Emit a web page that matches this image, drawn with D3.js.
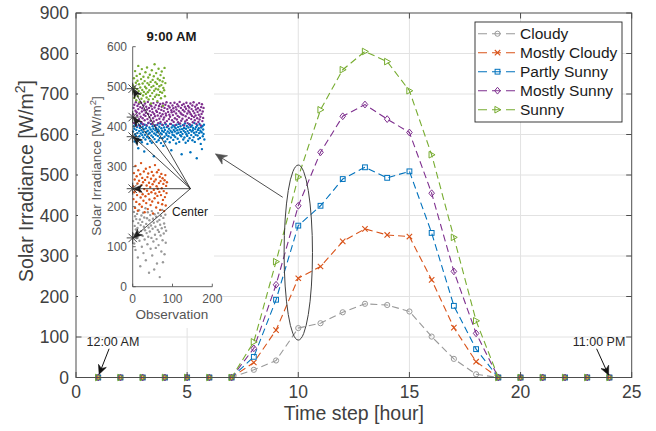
<!DOCTYPE html>
<html><head><meta charset="utf-8">
<script src="https://cdn.jsdelivr.net/npm/d3@7"></script>
<style>body{margin:0;background:#fff}svg{display:block;font-family:"Liberation Sans",Arial,Helvetica,sans-serif}</style>
</head><body><svg id="c" width="656" height="431"></svg>
<script>
// ---------- DATA ----------
const hours = [1,2,3,4,5,6,7,8,9,10,11,12,13,14,15,16,17,18,19,20,21,22,23,24];
const seriesNames = ["Cloudy","Mostly Cloudy","Partly Sunny","Mostly Sunny","Sunny"];
const cloudy       = [0,0,0,0,0,0,0,19,42,122,134,161,182,179,163,101,46,8,0,0,0,0,0,0];
const mostlyCloudy = [0,0,0,0,0,0,0,37,117,245,274,336,367,352,348,241,123,39,0,0,0,0,0,0];
const partlySunny  = [0,0,0,0,0,0,0,51,192,375,424,490,519,493,509,357,177,70,0,0,0,0,0,0];
const mostlySunny  = [0,0,0,0,0,0,0,72,229,424,556,645,674,638,605,455,262,109,0,0,0,0,0,0];
const sunny        = [0,0,0,0,0,0,0,88,286,495,661,760,805,780,708,550,346,140,0,0,0,0,0,0];
const xTicks = [0,5,10,15,20,25];
const yTicks = [0,100,200,300,400,500,600,700,800,900];

// inset (9:00 AM observations, x = observation index)
const insetXTicks = [0,100,200];
const insetYTicks = [0,100,200,300,400,500,600];
const obsCloudy = [164,131,187,108,152,176,92,143,169,121,182,147,73,159,136,191,115,168,51,154,139,178,100,162,127,185,84,150,173,118,141,196,66,157,134,171,106,186,125,148,35,166,138,179,95,153,122,189,78,145,170,113,160,43,181,130,150,97,175,119,58,163,142,184,104,137,167,24,155,128,177,88,146,192,116,61,172,133,158,81,149,180,110,140];
const obsMostlyCloudy = [251,219,284,236,268,197,302,243,212,276,229,258,190,291,247,265,206,238,281,223,309,254,200,272,231,261,215,288,244,186,267,226,295,209,253,240,274,194,283,232,260,218,299,249,204,270,236,287,213,256,183,278,242,263,221,304,233,268,198,251,286,227,245,210,292,259,237,275,192,264,229,282,246,206,271,217,257,239,189,266,224,279,203,252,234,261];
const obsPartlySunny = [388,372,401,395,363,381,406,377,392,359,399,384,370,346,404,389,376,397,366,383,408,391,361,379,400,386,373,394,338,405,380,368,396,387,402,375,357,390,409,382,371,398,385,364,393,407,378,360,388,401,374,395,326,383,369,403,391,380,397,362,386,405,377,393,366,389,400,372,408,384,359,396,381,390,371,404,352,387,398,375,392,363,406,383,379,399,369,388,402,376,395,384,361,407,390,373,341,398,386,380,403,367,392,378,400,388,374,396,358,405,383,391,370,399,385,407,362,393,379,401,387,376,331,394,382,404,368,390,397,373,408,386,360,395,381,402,377,389,365,398,384,406,371,392,336,400,379,388,403,366,391,397,374,385,409,362,394,380,399,387,321,403,378,392,369,396,384,407,372,390,357,398,386,344,401,376,393,382,405,368];
const obsMostlySunny = [431,447,409,455,422,418,440,461,403,436,428,452,414,444,457,419,433,402,449,425,460,411,438,446,421,406,453,430,441,416,458,427,435,450,404,443,419,462,432,410,447,424,439,455,415,429,451,407,444,436,421,459,413,432,448,426,403,454,440,417,437,461,428,409,445,452,420,434,457,412,426,442,450,405,431,458,418,439,423,447,410,455,433,428,461,414,444,402,437,452,419,430,448,425,459,407,441,436,416,453,429,446,412,438,460,421,404,449,433,443,418,456,427,411,451,439,424,462,408,435,447,415,431,454,420,442,429,457,403,438,450,413,426,445,460,417,433,409,452,440,422,448,436,405,458,431,419,444,427,453,411,439,461,424,434,416,450,428,443,407,455,421,437,446,412,430,459,418,441,425,403,449,432,456,414,438,422,447];
const obsSunny = [503,488,521,472,497,539,481,510,466,527,494,515,476,552,489,506,461,532,498,483,519,470,544,492,508,478,525,487,463,514,500,536,482,496,473,548,509,486,523,468,505,491,530,477,512,458,499,541,484,517,469,502,526,490,556,475,511,495,534,480,507,464,520,493,545,479,501,516,487,529,471,504,538,485,513,452,497,522,491,547,476,509];
const insetCenter = [145, 245];

// ---------- STYLE ----------
const colors = ["#999999","#D95319","#0072BD","#7E2F8E","#77AC30"];
const markers = ["circle","x","square","diamond","triangle"];
const mainSeries = [cloudy, mostlyCloudy, partlySunny, mostlySunny, sunny];
const obsSeries = [obsCloudy, obsMostlyCloudy, obsPartlySunny, obsMostlySunny, obsSunny];
const axisColor = "#4d4d4d", textColor = "#404040", gridColor = "#e2e2e2";

const svg = d3.select("#c");
const x = d3.scaleLinear().domain([0,25]).range([76,631.7]);
const y = d3.scaleLinear().domain([0,900]).range([377.5,13]);

// grid
const grid = svg.append("g");
xTicks.slice(1,-1).forEach(t=>grid.append("line").attr("x1",x(t)).attr("x2",x(t)).attr("y1",y(0)).attr("y2",y(900)).attr("stroke",gridColor).attr("stroke-width",1));
yTicks.slice(1,-1).forEach(t=>grid.append("line").attr("x1",x(0)).attr("x2",x(25)).attr("y1",y(t)).attr("y2",y(t)).attr("stroke",gridColor).attr("stroke-width",1));

function marker(g, type, cx, cy, color){
  const s = 2.7;
  if(type==="circle") g.append("circle").attr("cx",cx).attr("cy",cy).attr("r",2.6).attr("fill","none").attr("stroke",color).attr("stroke-width",1);
  else if(type==="x") g.append("path").attr("d",`M${cx-s},${cy-s}L${cx+s},${cy+s}M${cx-s},${cy+s}L${cx+s},${cy-s}`).attr("stroke",color).attr("stroke-width",1.1).attr("fill","none");
  else if(type==="square") g.append("rect").attr("x",cx-2.4).attr("y",cy-2.4).attr("width",4.8).attr("height",4.8).attr("fill","none").attr("stroke",color).attr("stroke-width",1);
  else if(type==="diamond") g.append("path").attr("d",`M${cx},${cy-3.4}L${cx+2.8},${cy}L${cx},${cy+3.4}L${cx-2.8},${cy}Z`).attr("fill","none").attr("stroke",color).attr("stroke-width",1);
  else if(type==="triangle") g.append("path").attr("d",`M${cx-2.6},${cy-3.3}L${cx+3.4},${cy}L${cx-2.6},${cy+3.3}Z`).attr("fill","none").attr("stroke",color).attr("stroke-width",1);
}

// series
const line = d3.line().x((d,i)=>x(hours[i])).y(d=>y(d));
mainSeries.forEach((vals,k)=>{
  const g = svg.append("g");
  g.append("path").attr("d",line(vals)).attr("fill","none").attr("stroke",colors[k]).attr("stroke-width",1.1).attr("stroke-dasharray","7,4");
  vals.forEach((v,i)=>marker(g,markers[k],x(hours[i]),y(v),colors[k]));
});

// axes box and ticks
const ax = svg.append("g").attr("stroke",axisColor).attr("stroke-width",1);
ax.append("rect").attr("x",x(0)).attr("y",y(900)).attr("width",x(25)-x(0)).attr("height",y(0)-y(900)).attr("fill","none");
xTicks.forEach(t=>{
  ax.append("line").attr("x1",x(t)).attr("x2",x(t)).attr("y1",y(0)).attr("y2",y(0)-5.5);
  ax.append("line").attr("x1",x(t)).attr("x2",x(t)).attr("y1",y(900)).attr("y2",y(900)+5.5);
});
yTicks.forEach(t=>{
  ax.append("line").attr("x1",x(0)).attr("x2",x(0)+5.5).attr("y1",y(t)).attr("y2",y(t));
  ax.append("line").attr("x1",x(25)).attr("x2",x(25)-5.5).attr("y1",y(t)).attr("y2",y(t));
});
xTicks.forEach(t=>svg.append("text").attr("x",x(t)).attr("y",398).attr("text-anchor","middle").attr("font-size",17.5).attr("fill",textColor).text(t));
yTicks.forEach(t=>svg.append("text").attr("x",69).attr("y",y(t)).attr("dy","0.36em").attr("text-anchor","end").attr("font-size",17.5).attr("fill",textColor).text(t));
svg.append("text").attr("x",(x(0)+x(25))/2).attr("y",420).attr("text-anchor","middle").attr("font-size",19.5).attr("fill",textColor).text("Time step [hour]");
const yl = svg.append("text").attr("transform","translate(33,181) rotate(-90)").attr("text-anchor","middle").attr("font-size",19.5).attr("fill",textColor);
yl.append("tspan").text("Solar Irradiance [W/m");
yl.append("tspan").attr("dy",-8).attr("font-size",14).text("2");
yl.append("tspan").attr("dy",8).text("]");

// arrowhead helper
function arrowHead(g, x0,y0,x1,y1,L,w,color){
  const a = Math.atan2(y1-y0,x1-x0), ux=Math.cos(a), uy=Math.sin(a), px=-uy, py=ux;
  const bx=x1-L*ux, by=y1-L*uy, nx=x1-L*0.7*ux, ny=y1-L*0.7*uy;
  g.append("path").attr("d",`M${x1},${y1}L${bx+w*px},${by+w*py}L${nx},${ny}L${bx-w*px},${by-w*py}Z`).attr("fill",color).attr("stroke",color).attr("stroke-width",0.6);
}
function arrow(g,x0,y0,x1,y1,L,w,color,sw){
  g.append("line").attr("x1",x0).attr("y1",y0).attr("x2",x1).attr("y2",y1).attr("stroke",color).attr("stroke-width",sw);
  arrowHead(g,x0,y0,x1,y1,L,w,color);
}

// ellipse around hour 10
const h10 = mainSeries.map(s=>s[hours.indexOf(10)]);
const eTop = y(d3.max(h10)), eBot = y(d3.min(h10));
const ann = svg.append("g");
ann.append("ellipse").attr("cx",x(10)).attr("cy",(eTop+eBot)/2).attr("rx",14.2).attr("ry",(eBot-eTop)/2+12).attr("fill","none").attr("stroke","#404040").attr("stroke-width",1);
arrow(ann, x(9.3), y(445), x(6.28), y(552), 11, 5, "#505050", 1);

// 12:00 AM / 11:00 PM
ann.append("text").attr("x",x(1.66)).attr("y",y(78)).attr("text-anchor","middle").attr("font-size",12.5).attr("fill","#262626").text("12:00 AM");
arrow(ann, x(1.49), y(71), x(1.04), y(8), 9, 4.2, "#111", 1);
ann.append("text").attr("x",x(23.53)).attr("y",y(79)).attr("text-anchor","middle").attr("font-size",12.5).attr("fill","#262626").text("11:00 PM");
arrow(ann, x(23.42), y(71), x(23.96), y(6), 9, 4.2, "#111", 1);

// ---------- INSET ----------
const ix = d3.scaleLinear().domain([0,200]).range([132.7,212.3]);
const iy = d3.scaleLinear().domain([0,600]).range([286.7,46.7]);
const ins = svg.append("g");
ins.append("rect").attr("x",78).attr("y",20).attr("width",136).attr("height",308).attr("fill","#fff");
// scatter
obsSeries.forEach((vals,k)=>{
  ins.append("g").selectAll("circle").data(vals).join("circle")
    .attr("cx",(d,i)=>ix(i+1)).attr("cy",d=>iy(d)).attr("r",1.2).attr("fill",colors[k]);
});
// axes
const iax = ins.append("g").attr("stroke","#555").attr("stroke-width",0.9);
iax.append("line").attr("x1",ix(0)).attr("x2",ix(0)).attr("y1",iy(0)).attr("y2",iy(600));
iax.append("line").attr("x1",ix(0)).attr("x2",ix(200)).attr("y1",iy(0)).attr("y2",iy(0));
insetYTicks.forEach(t=>iax.append("line").attr("x1",ix(0)).attr("x2",ix(0)+3).attr("y1",iy(t)).attr("y2",iy(t)));
insetXTicks.forEach(t=>iax.append("line").attr("x1",ix(t)).attr("x2",ix(t)).attr("y1",iy(0)).attr("y2",iy(0)-3));
insetYTicks.forEach(t=>ins.append("text").attr("x",127).attr("y",iy(t)).attr("dy","0.36em").attr("text-anchor","end").attr("font-size",12).attr("fill","#555").text(t));
insetXTicks.forEach(t=>ins.append("text").attr("x",ix(t)).attr("y",302.5).attr("text-anchor","middle").attr("font-size",12).attr("fill","#555").text(t));
ins.append("text").attr("x",172).attr("y",319).attr("text-anchor","middle").attr("font-size",13.5).attr("fill","#555").text("Observation");
const iyl = ins.append("text").attr("transform","translate(101,166) rotate(-90)").attr("text-anchor","middle").attr("font-size",13.5).attr("fill","#555");
iyl.append("tspan").text("Solar Irradiance [W/m");
iyl.append("tspan").attr("dy",-5).attr("font-size",9.5).text("2");
iyl.append("tspan").attr("dy",5).text("]");
ins.append("text").attr("x",171.5).attr("y",40.5).attr("text-anchor","middle").attr("font-size",13.2).attr("font-weight","bold").attr("fill","#1a1a1a").text("9:00 AM");
// center arrows + asterisks
const cx0 = ix(insetCenter[0]), cy0 = iy(insetCenter[1]);
h10.forEach(v=>{
  arrow(ins, cx0, cy0, ix(0)+0.5, iy(v), 9, 3.8, "#1a1a1a", 0.8);
});
h10.forEach(v=>{
  const px = ix(0), py = iy(v), r = 6;
  const st = ins.append("g").attr("stroke","#333").attr("stroke-width",0.9);
  [0,45,90,135].forEach(a=>{
    const rad=a*Math.PI/180;
    st.append("line").attr("x1",px-r*Math.cos(rad)).attr("y1",py-r*Math.sin(rad)).attr("x2",px+r*Math.cos(rad)).attr("y2",py+r*Math.sin(rad));
  });
});
ins.append("text").attr("x",172).attr("y",216).attr("font-size",12).attr("fill","#1a1a1a").text("Center");

// ---------- LEGEND ----------
const lg = svg.append("g");
lg.append("rect").attr("x",475).attr("y",22).attr("width",147).attr("height",100).attr("fill","#fff").attr("stroke","#262626").attr("stroke-width",0.9);
seriesNames.forEach((n,k)=>{
  const yy = 33.7 + k*19;
  lg.append("line").attr("x1",478).attr("x2",517).attr("y1",yy).attr("y2",yy).attr("stroke",colors[k]).attr("stroke-width",1.1).attr("stroke-dasharray","9,5");
  marker(lg,markers[k],497.5,yy,colors[k]);
  lg.append("text").attr("x",520).attr("y",yy).attr("dy","0.36em").attr("font-size",15.5).attr("fill","#1a1a1a").text(n);
});
</script></body></html>
